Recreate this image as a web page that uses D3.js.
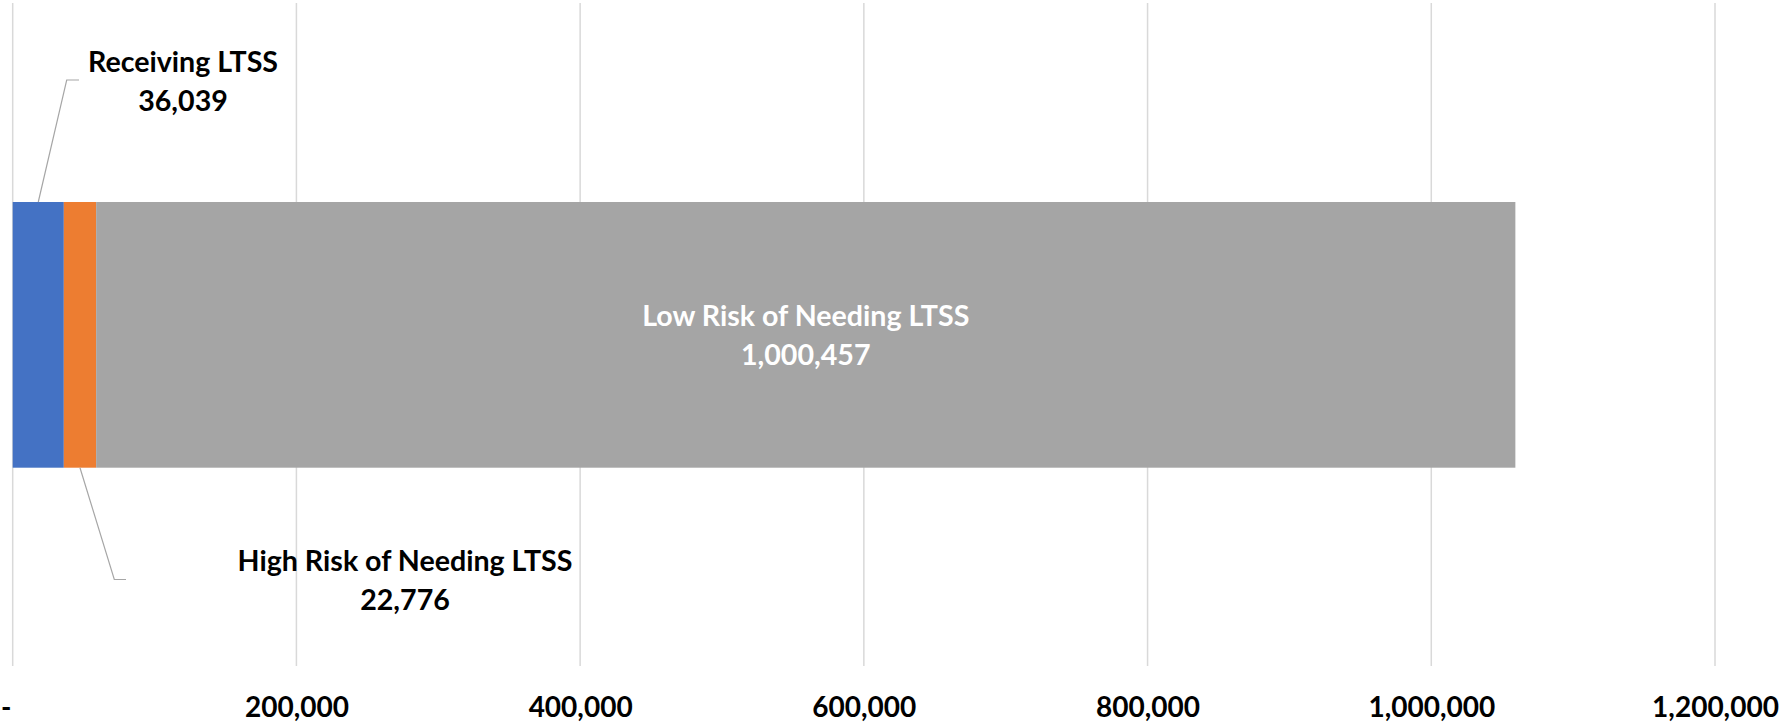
<!DOCTYPE html>
<html>
<head>
<meta charset="utf-8">
<script src="https://cdn.jsdelivr.net/npm/d3@7"></script>
<style>
  html, body { margin: 0; padding: 0; background: #fff; }
  svg { display: block; }
  text { font-family: Lato, "Open Sans", sans-serif; font-weight: 700; }
</style>
</head>
<body>
<svg id="chart" width="1781" height="724"></svg>
<script>
// ---- data ----
const categories = ["Receiving LTSS", "High Risk of Needing LTSS", "Low Risk of Needing LTSS"];
const values = [36039, 22776, 1000457];
const colors = ["#4472c4", "#ed7d31", "#a5a5a5"];
const tickValues = [0, 200000, 400000, 600000, 800000, 1000000, 1200000];
const tickLabels = ["-", "200,000", "400,000", "600,000", "800,000", "1,000,000", "1,200,000"];

// ---- layout ----
const W = 1781, H = 724;
const svg = d3.select("#chart");
const x = d3.scaleLinear().domain([0, 1200000]).range([12.7, 1715]);
const barTop = 202, barBottom = 467.7;
const gridTop = 3, gridBottom = 666;
const labelSize = "28.6px", tickSize = "28px";

// stacked segments
let acc = 0;
const segs = values.map((v, i) => {
  const s = { name: categories[i], value: v, x0: acc, x1: acc + v, color: colors[i] };
  acc += v;
  return s;
});

// gridlines
svg.append("g").selectAll("line").data(tickValues).join("line")
  .attr("x1", d => x(d)).attr("x2", d => x(d))
  .attr("y1", gridTop).attr("y2", gridBottom)
  .attr("stroke", "#d9d9d9").attr("stroke-width", 1.5);

// axis labels
const axis = d3.axisBottom(x).tickValues(tickValues)
  .tickFormat((d, i) => tickLabels[i]).tickSize(0).tickPadding(0);
const ag = svg.append("g").attr("transform", `translate(0,${H - 7})`).call(axis);
ag.select(".domain").remove();
ag.selectAll("text")
  .attr("y", 0).attr("dy", 0)
  .attr("fill", "#000")
  .style("font-family", "Lato, sans-serif").style("font-weight", 700)
  .style("font-size", tickSize);
ag.selectAll(".tick").filter(d => d === 0).select("text").attr("dx", -7);

// bars
svg.append("g").selectAll("rect").data(segs).join("rect")
  .attr("x", d => x(d.x0))
  .attr("width", d => x(d.x1) - x(d.x0))
  .attr("y", barTop)
  .attr("height", barBottom - barTop)
  .attr("fill", d => d.color);

const fmt = d3.format(",");

// labels
function label(cx, cy, lines, fill) {
  const t = svg.append("text")
    .attr("text-anchor", "middle")
    .attr("fill", fill)
    .style("font-size", labelSize);
  t.append("tspan").attr("x", cx).attr("y", cy - 8.5).text(lines[0]);
  t.append("tspan").attr("x", cx).attr("y", cy + 30.5).text(lines[1]);
}

// leader lines (from segment midpoint on bar edge to label box)
const leader = d3.line();
function callout(seg, edgeY, elbowX, elbowY, boxLeftX) {
  const mx = x((seg.x0 + seg.x1) / 2);
  svg.append("path")
    .attr("d", leader([[mx, edgeY], [elbowX, elbowY], [boxLeftX, elbowY]]))
    .attr("fill", "none").attr("stroke", "#a6a6a6").attr("stroke-width", 1.2);
}

callout(segs[0], barTop, 66.7, 80, 79);
label(183, 80, [segs[0].name, fmt(segs[0].value)], "#000");

callout(segs[1], barBottom, 114.3, 579.5, 126);
label(405, 579.5, [segs[1].name, fmt(segs[1].value)], "#000");

label((x(segs[2].x0) + x(segs[2].x1)) / 2, (barTop + barBottom) / 2,
  [segs[2].name, fmt(segs[2].value)], "#fff");
</script>
</body>
</html>
